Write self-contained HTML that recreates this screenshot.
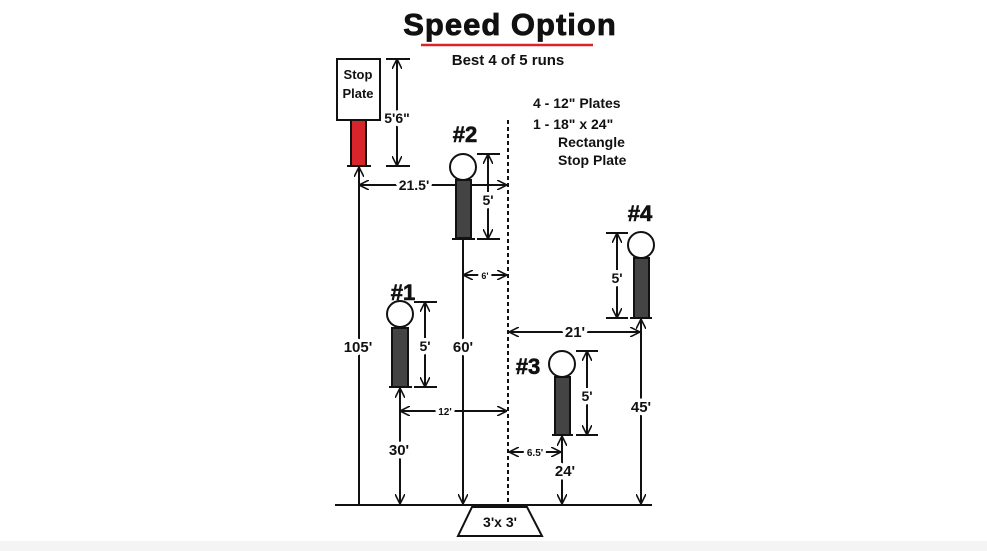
<!DOCTYPE html>
<html><head><meta charset="utf-8"><style>
html,body{margin:0;padding:0;background:#fff;}
svg{display:block;}
text{font-family:"Liberation Sans",Arial,sans-serif;font-weight:bold;fill:#111;}
.lb{stroke:#fff;stroke-width:7px;paint-order:stroke;stroke-linejoin:round;}
</style></head><body>
<svg width="987" height="551" viewBox="0 0 987 551" xmlns="http://www.w3.org/2000/svg">
<defs>
<marker id="a" viewBox="0 0 10 10" refX="10" refY="5" markerWidth="10" markerHeight="10" markerUnits="userSpaceOnUse" orient="auto-start-reverse">
<path d="M0,0 L10,5 L0,10" fill="none" stroke="#111" stroke-width="1.6"/>
</marker>
</defs>
<rect x="0" y="541" width="987" height="10" fill="#f4f4f4"/>
<text x="510" y="35" font-size="31" text-anchor="middle" letter-spacing="1" stroke="#111" stroke-width="0.8">Speed Option</text>
<line x1="421" y1="45" x2="593" y2="45" stroke="#d8242b" stroke-width="2.5"/>
<text x="508" y="65" font-size="15" text-anchor="middle">Best 4 of 5 runs</text>

<text x="533" y="108" font-size="14">4 - 12" Plates</text>
<text x="533" y="129" font-size="14">1 - 18" x 24"</text>
<text x="558" y="147" font-size="14">Rectangle</text>
<text x="558" y="165" font-size="14">Stop Plate</text>

<g stroke="#111" stroke-width="2" fill="none">
<rect x="337" y="59" width="43" height="61" fill="#fff"/>
<rect x="351" y="120" width="15" height="46" fill="#d8242b"/>
<line x1="347" y1="166" x2="371" y2="166"/>
<line x1="386" y1="59" x2="410" y2="59"/><line x1="386" y1="166" x2="410" y2="166"/>
<line x1="397" y1="59" x2="397" y2="166" marker-start="url(#a)" marker-end="url(#a)"/>
<line x1="359" y1="505" x2="359" y2="167" marker-end="url(#a)"/>
<line x1="359" y1="185" x2="507" y2="185" marker-start="url(#a)" marker-end="url(#a)"/>
<line x1="508" y1="120" x2="508" y2="505" stroke-dasharray="4,3"/>
<line x1="335" y1="505" x2="652" y2="505"/>
<path d="M472,507 L527,507 L542,536 L458,536 Z" fill="#fff"/>

<rect x="456" y="180" width="15" height="58" fill="#444"/>
<circle cx="463" cy="167" r="13" fill="#fff"/>
<line x1="452" y1="239" x2="475" y2="239"/>
<line x1="477" y1="154" x2="500" y2="154"/><line x1="477" y1="239" x2="500" y2="239"/>
<line x1="488" y1="154" x2="488" y2="239" marker-start="url(#a)" marker-end="url(#a)"/>
<line x1="463" y1="240" x2="463" y2="504" marker-end="url(#a)"/>
<line x1="463" y1="275" x2="507" y2="275" marker-start="url(#a)" marker-end="url(#a)"/>

<rect x="392" y="328" width="16" height="59" fill="#444"/>
<circle cx="400" cy="314" r="13" fill="#fff"/>
<line x1="389" y1="387" x2="412" y2="387"/>
<line x1="414" y1="302" x2="437" y2="302"/><line x1="414" y1="387" x2="437" y2="387"/>
<line x1="425" y1="302" x2="425" y2="387" marker-start="url(#a)" marker-end="url(#a)"/>
<line x1="400" y1="504" x2="400" y2="388" marker-start="url(#a)" marker-end="url(#a)"/>
<line x1="400" y1="411" x2="507" y2="411" marker-start="url(#a)" marker-end="url(#a)"/>

<rect x="555" y="377" width="15" height="58" fill="#444"/>
<circle cx="562" cy="364" r="13" fill="#fff"/>
<line x1="552" y1="435" x2="573" y2="435"/>
<line x1="576" y1="351" x2="598" y2="351"/><line x1="576" y1="435" x2="598" y2="435"/>
<line x1="587" y1="351" x2="587" y2="435" marker-start="url(#a)" marker-end="url(#a)"/>
<line x1="562" y1="504" x2="562" y2="436" marker-start="url(#a)" marker-end="url(#a)"/>
<line x1="509" y1="452" x2="561" y2="452" marker-start="url(#a)" marker-end="url(#a)"/>

<rect x="634" y="258" width="15" height="60" fill="#444"/>
<circle cx="641" cy="245" r="13" fill="#fff"/>
<line x1="630" y1="318" x2="652" y2="318"/>
<line x1="606" y1="233" x2="628" y2="233"/><line x1="606" y1="318" x2="628" y2="318"/>
<line x1="617" y1="233" x2="617" y2="318" marker-start="url(#a)" marker-end="url(#a)"/>
<line x1="641" y1="504" x2="641" y2="319" marker-start="url(#a)" marker-end="url(#a)"/>
<line x1="509" y1="332" x2="640" y2="332" marker-start="url(#a)" marker-end="url(#a)"/>
</g>

<text x="358" y="79" font-size="13" text-anchor="middle">Stop</text>
<text x="358" y="98" font-size="13" text-anchor="middle">Plate</text>
<text class="lb" x="397" y="123" font-size="14" text-anchor="middle">5'6"</text>
<text class="lb" x="414" y="190" font-size="14" text-anchor="middle">21.5'</text>
<text class="lb" x="358" y="352" font-size="15" text-anchor="middle">105'</text>

<text x="465" y="142" font-size="22" text-anchor="middle" stroke="#111" stroke-width="0.6">#2</text>
<text class="lb" x="488" y="205" font-size="14" text-anchor="middle">5'</text>
<text class="lb" x="485" y="279" font-size="9" text-anchor="middle">6'</text>
<text class="lb" x="463" y="352" font-size="15" text-anchor="middle">60'</text>

<text x="403" y="300" font-size="22" text-anchor="middle" stroke="#111" stroke-width="0.6">#1</text>
<text class="lb" x="425" y="351" font-size="14" text-anchor="middle">5'</text>
<text class="lb" x="445" y="415" font-size="10" text-anchor="middle">12'</text>
<text class="lb" x="399" y="455" font-size="15" text-anchor="middle">30'</text>

<text x="528" y="374" font-size="22" text-anchor="middle" stroke="#111" stroke-width="0.6">#3</text>
<text class="lb" x="587" y="401" font-size="14" text-anchor="middle">5'</text>
<text class="lb" x="535" y="456" font-size="10" text-anchor="middle">6.5'</text>
<text class="lb" x="565" y="476" font-size="15" text-anchor="middle">24'</text>

<text x="640" y="221" font-size="22" text-anchor="middle" stroke="#111" stroke-width="0.6">#4</text>
<text class="lb" x="617" y="283" font-size="14" text-anchor="middle">5'</text>
<text class="lb" x="575" y="337" font-size="15" text-anchor="middle">21'</text>
<text class="lb" x="641" y="412" font-size="15" text-anchor="middle">45'</text>

<text x="500" y="527" font-size="14" text-anchor="middle">3'x 3'</text>
</svg>
</body></html>
